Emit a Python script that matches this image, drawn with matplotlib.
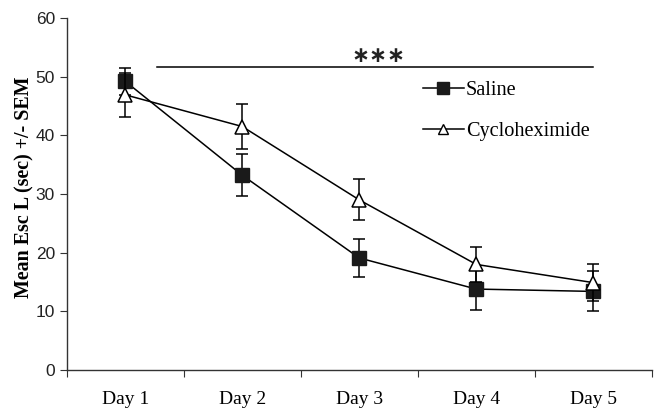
import matplotlib
matplotlib.use("Agg")
import matplotlib.pyplot as plt
from matplotlib.lines import Line2D
import numpy as np

days = ["Day 1", "Day 2", "Day 3", "Day 4", "Day 5"]
saline = [49.2, 33.2, 19.1, 13.8, 13.4]
saline_sem = [2.3, 3.6, 3.2, 3.6, 3.4]
cyclo = [46.9, 41.5, 29.0, 18.0, 14.9]
cyclo_sem = [3.7, 3.8, 3.5, 3.0, 3.2]
sig_label = "\u2217\u2217\u2217"

fig = plt.figure(figsize=(6.61, 4.08), dpi=100)
ax = fig.add_axes([0.101, 0.093, 0.885, 0.863])
x = np.arange(len(days))

ax.errorbar(x, saline, yerr=saline_sem, color="black", lw=1.1, capsize=4.5,
            elinewidth=1.1, capthick=1.1, marker="s", markersize=10,
            markerfacecolor="#1a1a1a", markeredgecolor="#1a1a1a", zorder=3)
ax.errorbar(x, cyclo, yerr=cyclo_sem, color="black", lw=1.1, capsize=4.5,
            elinewidth=1.1, capthick=1.1, marker="^", markersize=10,
            markerfacecolor="white", markeredgecolor="black", markeredgewidth=1.1,
            zorder=4)

# significance bar
ax.plot([0.27, 4.0], [51.6, 51.6], color="black", lw=1.1)
ax.text(2.16, 53.6, sig_label, ha="center", va="center", fontsize=15.5,
        fontweight="bold", family="DejaVu Sans", color="#222222")

ax.set_xlim(-0.5, 4.5)
ax.set_ylim(0, 60)
ax.set_yticks(range(0, 61, 10))
ax.set_xticks(np.arange(-0.5, 5, 1))
ax.set_xticklabels([])
ax.set_xticks(x, minor=True)
ax.set_xticklabels(days, minor=True, fontsize=14, family="Liberation Serif")
ax.tick_params(axis="x", which="minor", length=0, pad=15)
ax.tick_params(axis="x", which="major", length=5, direction="out", color="#333333")
ax.tick_params(axis="y", length=5, direction="out", color="#333333", labelsize=12.5)
for lab in ax.get_yticklabels():
    lab.set_family("Liberation Sans")
    lab.set_color("#222222")

for s in ["top", "right"]:
    ax.spines[s].set_visible(False)
for s in ["left", "bottom"]:
    ax.spines[s].set_color("#333333")
    ax.spines[s].set_linewidth(1.0)

ax.set_ylabel("Mean Esc L (sec) +/- SEM", fontsize=14.4, fontweight="bold",
              family="Liberation Serif")
ax.yaxis.set_label_coords(-0.055, 0.52)

handles = [
    Line2D([], [], color="black", lw=1.1, marker="s", markersize=8,
           markerfacecolor="#1a1a1a", markeredgecolor="#1a1a1a"),
    Line2D([], [], color="black", lw=1.1, marker="^", markersize=7,
           markerfacecolor="white", markeredgecolor="black"),
]
ax.legend(handles, ["Saline", "Cycloheximide"], loc="upper left",
          bbox_to_anchor=(0.578, 0.874), frameon=False,
          handlelength=2.0, handletextpad=0.1, labelspacing=1.1,
          prop={"family": "Liberation Serif", "size": 14.6})

fig.savefig("out.png", dpi=100)
